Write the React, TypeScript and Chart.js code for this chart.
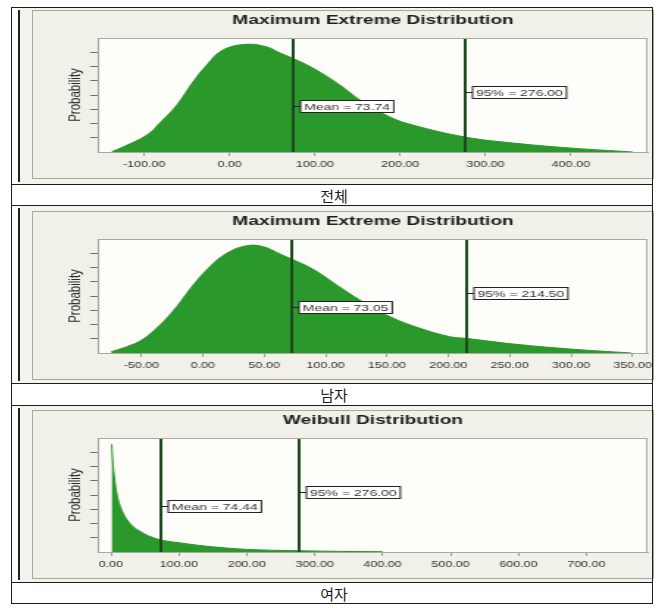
import React, { useEffect, useRef } from 'react';
import { Chart, registerables } from 'chart.js';

Chart.register(...registerables);

// ---------------- data ----------------
const chartTitles = ['Maximum Extreme Distribution', 'Maximum Extreme Distribution', 'Weibull Distribution'];
const captionTexts = ['전체', '남자', '여자'];
const yAxisTitle = 'Probability';
const yTickValues = [1, 2, 3, 4, 5, 6, 7];
const yRange = [0, 8];

// 전체 (all)
const totalX = [-137.8, -124.9, -96.8, -81.6, -61.6, -42.9, -26.5, -7.7, 20.4, 43.8, 59.1, 73.1, 97.7, 129.3, 152.8, 187.9, 214.9, 275.9, 332.1, 398.9, 472.7];
const totalY = [0.03, 0.35, 1.19, 2.04, 3.30, 4.91, 6.11, 7.16, 7.56, 7.37, 6.95, 6.60, 5.89, 4.70, 3.65, 2.46, 1.89, 1.05, 0.63, 0.28, 0.0];
const totalXTicks = [-100, 0, 100, 200, 300, 400];
const totalXRange = [-154.2, 490.5];
const totalMean = 73.74;
const totalP95 = 276.0;

// 남자 (male)
const maleX = [-74.5, -61.9, -49.7, -34.8, -21.2, -7.7, 5.9, 19.5, 35.8, 49.3, 63.4, 73.0, 90.0, 111.8, 128.0, 152.5, 177.0, 201.4, 213.8, 253.0, 299.0, 349.0];
const maleY = [0.09, 0.44, 0.91, 1.96, 3.25, 4.77, 6.06, 7.0, 7.53, 7.46, 6.93, 6.57, 5.87, 4.61, 3.72, 2.55, 1.73, 1.14, 1.03, 0.63, 0.28, 0.0];
const maleXTicks = [-50, 0, 50, 100, 150, 200, 250, 300, 350];
const maleXRange = [-85.3, 362.6];
const maleMean = 73.05;
const maleP95 = 214.5;

// 여자 (female)
const femaleX = [1.0, 3.4, 8.4, 15.8, 28.0, 42.8, 67.4, 101.8, 150.0, 200.0, 274.0, 340.0, 400.0];
const femaleY = [7.56, 5.96, 4.14, 2.95, 2.0, 1.45, 0.92, 0.64, 0.36, 0.18, 0.09, 0.04, 0.02];
const femaleXTicks = [0, 100, 200, 300, 400, 500, 600, 700];
const femaleXRange = [-19.1, 790.9];
const femaleMean = 74.44;
const femaleP95 = 276.0;

// ---------------- styling ----------------
const FONT = '"Liberation Sans", Arial, Helvetica, sans-serif';
const AREA = '#2b982b';
const MARK = '#1b4a1b';
const STRETCH = 1.47;
const CANVAS_W = 440;
const CANVAS_H = 167;

const framePlugin = {
  id: 'frame',
  beforeDraw(chart: any) {
    const { ctx, chartArea: a } = chart;
    ctx.save();
    ctx.fillStyle = '#fdfdfa';
    ctx.fillRect(a.left, a.top, a.right - a.left, a.bottom - a.top);
    ctx.restore();
  },
  afterDraw(chart: any) {
    const { ctx, chartArea: a } = chart;
    ctx.save();
    ctx.strokeStyle = '#a9a9a4';
    ctx.lineWidth = 1;
    ctx.strokeRect(Math.round(a.left) + 0.5, Math.round(a.top) + 0.5, Math.round(a.right - a.left) - 1, Math.round(a.bottom - a.top));
    ctx.restore();
  },
};

const markerPlugin = {
  id: 'markers',
  afterDatasetsDraw(chart: any, _args: any, opts: any) {
    const { ctx, chartArea } = chart;
    const xs = chart.scales.x;
    ctx.save();
    (opts.items || []).forEach((it: any) => {
      const px = Math.round(xs.getPixelForValue(it.value));
      ctx.strokeStyle = MARK;
      ctx.lineWidth = 2;
      ctx.beginPath();
      ctx.moveTo(px, chartArea.top);
      ctx.lineTo(px, chartArea.bottom);
      ctx.stroke();
      const cy = Math.round(chartArea.top + it.offset) + 0.5;
      ctx.font = `9.5px ${FONT}`;
      const tw = ctx.measureText(it.text).width;
      const bx = px + 5;
      const bw = tw + 5;
      const bh = 12;
      ctx.strokeStyle = '#222';
      ctx.lineWidth = 1;
      ctx.beginPath();
      ctx.moveTo(px, cy);
      ctx.lineTo(bx, cy);
      ctx.stroke();
      ctx.fillStyle = '#ffffff';
      ctx.fillRect(bx, cy - bh / 2, bw, bh);
      ctx.strokeRect(bx, cy - bh / 2, bw, bh);
      ctx.fillStyle = '#333';
      ctx.textBaseline = 'middle';
      ctx.textAlign = 'left';
      ctx.fillText(it.text, bx + 2.5, cy + 0.5);
    });
    ctx.restore();
  },
};

type DistProps = {
  title: string;
  xs: number[];
  ys: number[];
  ticks: number[];
  range: number[];
  mean: number;
  p95: number;
  smooth: string;
};

function DistChart(props: DistProps) {
  const ref = useRef<HTMLCanvasElement>(null);
  useEffect(() => {
    const { title, xs, ys, ticks, range, mean, p95, smooth } = props;
    const chart = new Chart(ref.current as HTMLCanvasElement, {
      type: 'line',
      data: {
        datasets: [
          {
            data: xs.map((x, i) => ({ x, y: ys[i] })),
            fill: 'origin',
            backgroundColor: AREA,
            borderColor: AREA,
            borderWidth: 1,
            pointRadius: 0,
            tension: 0.4,
            cubicInterpolationMode: smooth,
          },
        ],
      },
      options: {
        animation: false,
        responsive: true,
        maintainAspectRatio: false,
        events: [],
        layout: { padding: { left: 0, right: 21.6, top: 0, bottom: 0 } },
        plugins: {
          legend: { display: false },
          tooltip: { enabled: false },
          title: {
            display: true,
            text: title,
            fullSize: false,
            color: '#1e1e1e',
            font: { family: FONT, size: 13, weight: 'bold' },
            padding: { top: 1.5, bottom: 9.9 },
          },
          markers: {
            items: [
              { value: mean, text: 'Mean = ' + mean.toFixed(2), offset: 68 },
              { value: p95, text: '95% = ' + p95.toFixed(2), offset: 54 },
            ],
          },
        } as any,
        scales: {
          x: {
            type: 'linear',
            min: range[0],
            max: range[1],
            afterBuildTicks: (ax: any) => {
              ax.ticks = ticks.map((v) => ({ value: v }));
            },
            afterFit: (s: any) => {
              s.height = 26;
            },
            ticks: {
              autoSkip: false,
              maxRotation: 0,
              padding: 4,
              color: '#333',
              font: { family: FONT, size: 8.5 },
              callback: (v: any) => Number(v).toFixed(2),
            },
            grid: { drawOnChartArea: false, drawTicks: true, tickLength: 4, color: '#9a9a9a' },
            border: { display: true, color: '#a9a9a4' },
          },
          y: {
            type: 'linear',
            min: yRange[0],
            max: yRange[1],
            afterBuildTicks: (ax: any) => {
              ax.ticks = yTickValues.map((v) => ({ value: v }));
            },
            afterFit: (s: any) => {
              s.width = 44.2;
            },
            ticks: { display: false },
            grid: { drawOnChartArea: false, drawTicks: true, tickLength: 5.4, color: '#6e6e6e' },
            border: { display: true, color: '#a9a9a4' },
            title: {
              display: true,
              text: yAxisTitle,
              color: '#2a2a2a',
              font: { family: FONT, size: 11.5 },
              padding: { top: 22, bottom: 0 },
            },
          },
        } as any,
      },
      plugins: [framePlugin, markerPlugin],
    } as any);
    return () => chart.destroy();
  }, []);
  return (
    <div
      style={{
        position: 'absolute',
        left: 0,
        top: 0,
        width: CANVAS_W,
        height: CANVAS_H,
        transform: `scaleX(${STRETCH})`,
        transformOrigin: '0 0',
      }}
    >
      <canvas ref={ref} />
    </div>
  );
}

const rowLayout = [
  { rowTop: 7, rowBottom: 184, capBottom: 205, panelTop: 10 },
  { rowTop: 205, rowBottom: 383, capBottom: 405, panelTop: 211 },
  { rowTop: 405, rowBottom: 582, capBottom: 603, panelTop: 410 },
];

const chartSets = [
  { xs: totalX, ys: totalY, ticks: totalXTicks, range: totalXRange, mean: totalMean, p95: totalP95, smooth: 'default' },
  { xs: maleX, ys: maleY, ticks: maleXTicks, range: maleXRange, mean: maleMean, p95: maleP95, smooth: 'default' },
  { xs: femaleX, ys: femaleY, ticks: femaleXTicks, range: femaleXRange, mean: femaleMean, p95: femaleP95, smooth: 'monotone' },
];

export default function App() {
  const LINE = '#1c1c1c';
  const hLines = [7, 184, 205, 383, 405, 582, 603];
  return (
    <div style={{ position: 'absolute', left: 0, top: 0, width: 671, height: 612, background: '#ffffff', overflow: 'hidden' }}>
      {rowLayout.map((r, i) => (
        <React.Fragment key={i}>
          <div
            style={{
              position: 'absolute',
              left: 20,
              top: r.rowTop + 1,
              width: 632,
              height: r.rowBottom - r.rowTop - 1,
              background: '#f4f3ee',
            }}
          />
          <div
            style={{
              position: 'absolute',
              left: 18,
              top: r.rowTop + 3,
              width: 2,
              height: r.rowBottom - r.rowTop - 5,
              background: '#222',
            }}
          />
          <div
            style={{
              position: 'absolute',
              left: 32,
              top: r.panelTop,
              width: 622,
              height: 169,
              boxSizing: 'border-box',
              border: '1px solid #a8a8a0',
              background: '#f1f0e9',
              overflow: 'hidden',
            }}
          >
            <DistChart title={chartTitles[i]} {...chartSets[i]} />
          </div>
          <div
            style={{
              position: 'absolute',
              left: 12,
              top: r.rowBottom + 1,
              width: 640,
              height: r.capBottom - r.rowBottom - 1,
              background: '#ffffff',
              display: 'flex',
              alignItems: 'center',
              justifyContent: 'center',
              fontFamily: '"Noto Sans CJK KR", sans-serif',
              fontSize: 15,
              color: '#1a1a1a',
              lineHeight: 1,
              paddingLeft: 4,
              boxSizing: 'border-box',
            }}
          >
            {captionTexts[i]}
          </div>
        </React.Fragment>
      ))}
      {hLines.map((y, i) => (
        <div key={'h' + i} style={{ position: 'absolute', left: 11, top: y, width: 642, height: 1, background: LINE }} />
      ))}
      <div style={{ position: 'absolute', left: 11, top: 7, width: 1, height: 597, background: LINE }} />
      <div style={{ position: 'absolute', left: 652, top: 7, width: 1, height: 597, background: LINE }} />
    </div>
  );
}
